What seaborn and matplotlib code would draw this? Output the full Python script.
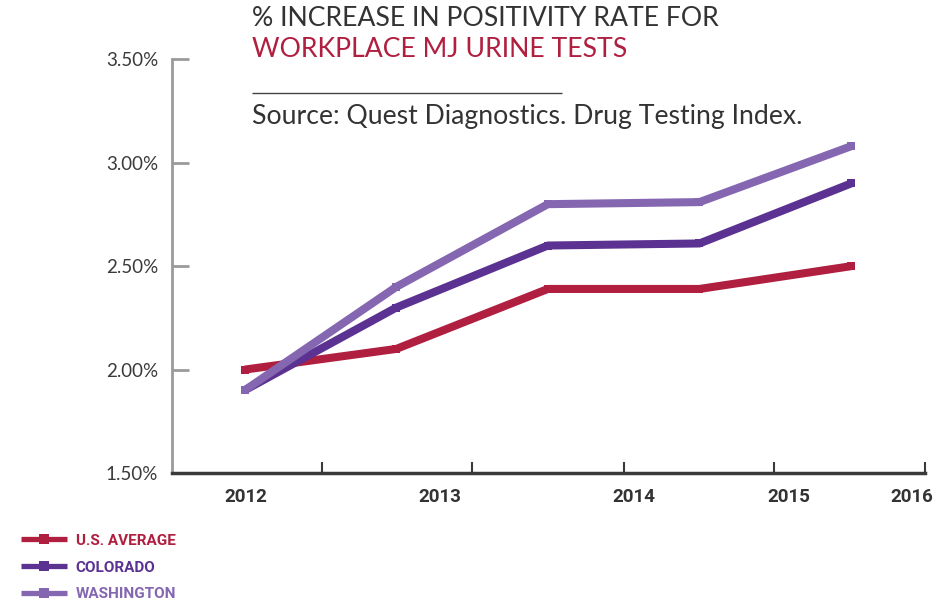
import seaborn as sns
import matplotlib.pyplot as plt
import matplotlib.lines as mlines
import pandas as pd
import numpy as np

# data
years = ["2012", "2013", "2014", "2015", "2016"]
us_average = [2.00, 2.10, 2.39, 2.39, 2.50]
colorado = [1.90, 2.30, 2.60, 2.61, 2.90]
washington = [1.90, 2.40, 2.80, 2.81, 3.08]
series_names = ["U.S. AVERAGE", "COLORADO", "WASHINGTON"]
y_ticks = [1.5, 2.0, 2.5, 3.0, 3.5]

colors = ["#B01F3F", "#5B3291", "#8467B0"]

df = pd.DataFrame({
    "pos": list(range(len(years))) * 3,
    "rate": us_average + colorado + washington,
    "series": [s for s in series_names for _ in years],
})

sns.set_theme(style="white")
plt.rcParams["font.family"] = ["Lato", "DejaVu Sans"]
plt.rcParams["lines.solid_capstyle"] = "butt"

fig = plt.figure(figsize=(9.5, 6.02), dpi=100)
ax = fig.add_axes([0.181, 0.2143, 0.793, 0.687])

sns.lineplot(data=df, x="pos", y="rate", hue="series", palette=colors,
             hue_order=series_names, linewidth=5.8, marker="s", markersize=6,
             markeredgewidth=0, ax=ax)

# axes styling
ax.set_xlim(-0.48, 4.49)
ax.set_ylim(1.5, 3.5)
sns.despine(ax=ax)
ax.spines["left"].set_color("#9a9a9c")
ax.spines["left"].set_linewidth(2)
ax.spines["bottom"].set_color("#3a3a3a")
ax.spines["bottom"].set_linewidth(2.5)

ax.set_yticks(y_ticks)
ax.set_yticklabels([f"{v:.2f}%" for v in y_ticks], fontsize=13.5, color="#3a3a3a")
ax.tick_params(axis="y", direction="in", length=12, width=2, color="#9a9a9c",
               left=True, pad=10)

# year labels sit off the tick marks, as in the original
label_pos = [0.01, 1.29, 2.57, 3.59, 4.40]
ax.set_xticks(label_pos)
ax.set_xticklabels(years, fontsize=13.5, fontweight="bold", color="#333333",
                   family=["Roboto", "DejaVu Sans"])
ax.tick_params(axis="x", length=0, pad=11)
ax.set_xticks([0.51, 1.50, 2.50, 3.49, 4.49], minor=True)
ax.tick_params(axis="x", which="minor", direction="in", length=8, width=1.5,
               color="#3a3a3a", bottom=True)
ax.set_xlabel("")
ax.set_ylabel("")

# legend
leg = ax.legend(loc="lower left", bbox_to_anchor=(0.008, -0.022), bbox_transform=fig.transFigure,
                frameon=False, handlelength=3.0, handletextpad=0.55, labelspacing=0.85,
                prop={"family": ["Roboto", "DejaVu Sans"], "weight": "bold", "size": 11})
for txt, c in zip(leg.get_texts(), colors):
    txt.set_color(c)
for h in leg.legend_handles:
    h.set_linewidth(3.8)
    h.set_markersize(7)

# title block
fig.text(0.265, 0.970, "% INCREASE IN POSITIVITY RATE FOR", fontsize=19.2,
         color="#333333", va="center", ha="left")
fig.text(0.265, 0.917, "WORKPLACE MJ URINE TESTS", fontsize=19.2,
         color="#B01F3F", va="center", ha="left")
fig.add_artist(mlines.Line2D([0.265, 0.592], [0.8455, 0.8455], color="#444444",
                             linewidth=1, transform=fig.transFigure))
fig.text(0.265, 0.807, "Source: Quest Diagnostics. Drug Testing Index.", fontsize=19.2,
         color="#333333", va="center", ha="left")

fig.savefig("out.png", dpi=100)
